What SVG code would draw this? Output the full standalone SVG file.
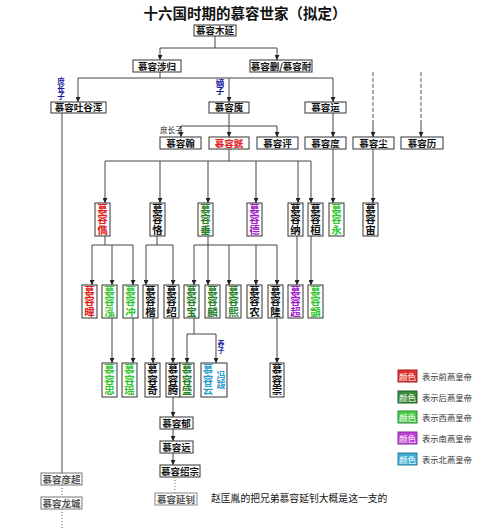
<svg xmlns="http://www.w3.org/2000/svg" width="500" height="529" viewBox="0 0 500 529">
<style>
text{font-family:"Noto Sans CJK SC","Noto Sans",sans-serif;fill:#111}
.box{fill:#fff;stroke:#333;stroke-width:1}
.h{font-size:9.5px;font-weight:bold;text-anchor:middle}
.v{font-size:10.5px;font-weight:bold;text-anchor:middle;writing-mode:vertical-rl}
.vt{writing-mode:vertical-rl;text-anchor:middle}
.ln{fill:none;stroke:#444;stroke-width:1}
.ar{fill:none;stroke:#444;stroke-width:1;marker-end:url(#arr)}
.dash{fill:none;stroke:#555;stroke-width:1;stroke-dasharray:4,2}
.dot{fill:none;stroke:#666;stroke-width:1;stroke-dasharray:1,2}
.red{fill:#e02020}
.dg{fill:#2a7f2a}
.lg{fill:#33c633}
.pu{fill:#a020c8}
.te{fill:#2a9cc8}
.blue{fill:#1a1aa0;font-weight:bold}
.leg{font-size:8.3px;fill:#333}
.legc{font-size:8.5px;text-anchor:middle;fill:#fff}
</style>
<defs>
<marker id="arr" viewBox="0 0 6 6" refX="6" refY="3" markerWidth="5" markerHeight="5" markerUnits="userSpaceOnUse" orient="auto">
<path d="M0,0 L6,3 L0,6 z" fill="#222"/>
</marker>
</defs>
<rect width="500" height="529" fill="#fff"/>
<text x="245" y="19" font-size="14.5" font-weight="bold" text-anchor="middle" fill="#333">十六国时期的慕容世家（拟定）</text>

<g id="connectors">
<path class="ln" d="M215,36 V48 M160,48 H277"/>
<path class="ar" d="M160,48 V60"/>
<path class="ar" d="M277,48 V60"/>
<path class="ln" d="M160,72 V78 M78,78 H333"/>
<path class="ar" d="M78,78 V102"/>
<path class="ar" d="M229,78 V102"/>
<path class="ar" d="M333,78 V102"/>
<path class="ln" d="M62,113 V473"/>
<path class="dot" d="M62,485 V497 M62,509 V529"/>
<path class="ln" d="M229,113 V126 M181,126 H277"/>
<path class="ar" d="M181,126 V137"/>
<path class="ar" d="M229,126 V137"/>
<path class="ar" d="M277,126 V137"/>
<path class="ar" d="M333,113 V137"/>
<path class="dash" d="M373,72 V120 M421,72 V120"/>
<path class="ar" d="M373,120 V137"/>
<path class="ar" d="M421,120 V137"/>
<path class="ln" d="M229,149 V161 M105,161 H311"/>
<path class="ar" d="M105,161 V203"/>
<path class="ar" d="M160,161 V203"/>
<path class="ar" d="M208,161 V203"/>
<path class="ar" d="M256,161 V203"/>
<path class="ar" d="M298,161 V203"/>
<path class="ar" d="M311,161 V203"/>
<path class="ar" d="M333,149 V203"/>
<path class="ar" d="M373,149 V203"/>
<path class="ln" d="M105,236 V245 M92,245 H133"/>
<path class="ar" d="M92,245 V285"/>
<path class="ar" d="M112,245 V285"/>
<path class="ar" d="M133,245 V285"/>
<path class="ln" d="M157,236 V245 M146,245 H173"/>
<path class="ar" d="M146,245 V285"/>
<path class="ar" d="M173,245 V285"/>
<path class="ln" d="M208,236 V245 M194,245 H277"/>
<path class="ar" d="M194,245 V285"/>
<path class="ar" d="M208,245 V285"/>
<path class="ar" d="M229,245 V285"/>
<path class="ar" d="M256,245 V285"/>
<path class="ar" d="M277,245 V285"/>
<path class="ar" d="M297,236 V285"/>
<path class="ar" d="M311,236 V285"/>
<path class="ar" d="M112,318 V363"/>
<path class="ar" d="M133,318 V363"/>
<path class="ar" d="M153,318 V363"/>
<path class="ar" d="M173,318 V363"/>
<path class="ln" d="M194,318 V334 M187,334 H216"/>
<path class="ar" d="M187,334 V363"/>
<path class="ar" d="M216,334 V363"/>
<path class="ar" d="M277,318 V363"/>
<path class="ar" d="M173,397 V417"/>
<path class="ar" d="M173,429 V441"/>
<path class="ar" d="M173,453 V465"/>
<path class="dot" d="M175,477 V493"/>
</g>

<g id="labels">
<text class="blue vt" x="61" y="89" font-size="7.5">庶长子</text>
<text class="blue vt" x="220" y="87" font-size="8.5">嫡子</text>
<text x="160" y="133" font-size="7.5">庶长子</text>
<text class="blue vt" x="221" y="347" font-size="7">养子</text>
</g>

<g id="n-muyan"><rect class="box" x="194" y="25" width="42" height="11"/><text class="h" x="215" y="34">慕容木延</text></g>
<g id="n-shegui"><rect class="box" x="133" y="60" width="48" height="12"/><text class="h" x="157" y="69.5">慕容涉归</text></g>
<g id="n-shan"><rect class="box" x="250" y="60" width="62" height="12"/><text class="h" x="281" y="69.5">慕容删/慕容耐</text></g>
<g id="n-tuyuhun"><rect class="box" x="51" y="102" width="55" height="11"/><text class="h" x="78.5" y="111">慕容吐谷浑</text></g>
<g id="n-hui"><rect class="box" x="209" y="102" width="40" height="11"/><text class="h" x="229" y="111">慕容廆</text></g>
<g id="n-yun"><rect class="box" x="305" y="102" width="41" height="11"/><text class="h" x="325.5" y="111">慕容运</text></g>
<g id="n-han"><rect class="box" x="160" y="137" width="41" height="12"/><text class="h" x="180.5" y="146.5">慕容翰</text></g>
<g id="n-huang"><rect class="box" x="209" y="137" width="40" height="12"/><text class="h red" x="229" y="146.5">慕容皝</text></g>
<g id="n-ping"><rect class="box" x="257" y="137" width="41" height="12"/><text class="h" x="277.5" y="146.5">慕容评</text></g>
<g id="n-du"><rect class="box" x="305" y="137" width="41" height="12"/><text class="h" x="325.5" y="146.5">慕容度</text></g>
<g id="n-chen"><rect class="box" x="353" y="137" width="41" height="12"/><text class="h" x="373.5" y="146.5">慕容尘</text></g>
<g id="n-li"><rect class="box" x="401" y="137" width="42" height="12"/><text class="h" x="422" y="146.5">慕容历</text></g>

<g id="n-jun"><rect class="box" x="95" y="203" width="15" height="33"/><text class="v red" x="102.5" y="219.5">慕容儁</text></g>
<g id="n-ke"><rect class="box" x="150" y="203" width="15" height="33"/><text class="v" x="157.5" y="219.5">慕容恪</text></g>
<g id="n-chui"><rect class="box" x="198" y="203" width="15" height="33"/><text class="v dg" x="205.5" y="219.5">慕容垂</text></g>
<g id="n-de"><rect class="box" x="247" y="203" width="15" height="33"/><text class="v pu" x="254.5" y="219.5">慕容德</text></g>
<g id="n-na"><rect class="box" x="288" y="203" width="15" height="33"/><text class="v" x="295.5" y="219.5">慕容纳</text></g>
<g id="n-huan"><rect class="box" x="308" y="203" width="15" height="33"/><text class="v" x="315.5" y="219.5">慕容桓</text></g>
<g id="n-yong"><rect class="box" x="329" y="203" width="15" height="33"/><text class="v lg" x="336.5" y="219.5">慕容永</text></g>
<g id="n-zhou"><rect class="box" x="363" y="203" width="15" height="33"/><text class="v" x="370.5" y="219.5">慕容宙</text></g>

<g id="n-wei"><rect class="box" x="82" y="285" width="15" height="33"/><text class="v red" x="89.5" y="301.5">慕容暐</text></g>
<g id="n-hong"><rect class="box" x="102" y="285" width="15" height="33"/><text class="v lg" x="109.5" y="301.5">慕容泓</text></g>
<g id="n-chong"><rect class="box" x="123" y="285" width="15" height="33"/><text class="v lg" x="130.5" y="301.5">慕容冲</text></g>
<g id="n-kai"><rect class="box" x="143" y="285" width="15" height="33"/><text class="v" x="150.5" y="301.5">慕容楷</text></g>
<g id="n-shao"><rect class="box" x="164" y="285" width="15" height="33"/><text class="v" x="171.5" y="301.5">慕容绍</text></g>
<g id="n-bao"><rect class="box" x="184" y="285" width="15" height="33"/><text class="v dg" x="191.5" y="301.5">慕容宝</text></g>
<g id="n-lin"><rect class="box" x="205" y="285" width="15" height="33"/><text class="v dg" x="212.5" y="301.5">慕容麟</text></g>
<g id="n-xi"><rect class="box" x="226" y="285" width="15" height="33"/><text class="v dg" x="233.5" y="301.5">慕容熙</text></g>
<g id="n-nong"><rect class="box" x="247" y="285" width="15" height="33"/><text class="v" x="254.5" y="301.5">慕容农</text></g>
<g id="n-long"><rect class="box" x="268" y="285" width="15" height="33"/><text class="v" x="275.5" y="301.5">慕容隆</text></g>
<g id="n-chao"><rect class="box" x="288" y="285" width="15" height="33"/><text class="v pu" x="295.5" y="301.5">慕容超</text></g>
<g id="n-yi"><rect class="box" x="308" y="285" width="15" height="33"/><text class="v lg" x="315.5" y="301.5">慕容顗</text></g>

<g id="n-zhong"><rect class="box" x="102" y="363" width="15" height="34"/><text class="v lg" x="109.5" y="380">慕容忠</text></g>
<g id="n-yao"><rect class="box" x="122" y="363" width="15" height="34"/><text class="v lg" x="129.5" y="380">慕容瑶</text></g>
<g id="n-qi"><rect class="box" x="145" y="363" width="15" height="34"/><text class="v" x="152.5" y="380">慕容奇</text></g>
<g id="n-teng"><rect class="box" x="166" y="363" width="14" height="34"/><text class="v" x="173" y="380">慕容腾</text></g>
<g id="n-sheng"><rect class="box" x="180" y="363" width="14" height="34"/><text class="v dg" x="187" y="380">慕容盛</text></g>
<g id="n-yunfeng"><rect class="box" x="201" y="363" width="26" height="34"/><text class="v te" x="208" y="380">慕容云</text><text class="te vt" x="221" y="380" font-size="9" font-weight="bold">冯跋</text></g>
<g id="n-chong2"><rect class="box" x="270" y="363" width="14" height="34"/><text class="v" x="277" y="380">慕容崇</text></g>

<g id="n-yu"><rect class="box" x="160" y="417" width="33" height="12"/><text class="h" x="176.5" y="426.5">慕容郁</text></g>
<g id="n-yuan"><rect class="box" x="160" y="441" width="33" height="12"/><text class="h" x="176.5" y="450.5">慕容远</text></g>
<g id="n-shaozong"><rect class="box" x="160" y="465" width="40" height="12"/><text class="h" x="180" y="474.5" font-size="8.5">慕容绍宗</text></g>
<g id="n-yanzhao"><rect class="box" x="155" y="493" width="42" height="12" style="stroke:#888"/><text class="h" x="176" y="502.5" style="fill:#555">慕容延钊</text></g>
<text x="211" y="502" font-size="9.8" fill="#333">赵匡胤的把兄弟慕容延钊大概是这一支的</text>
<g id="n-yanchao"><rect class="box" x="41" y="473" width="41" height="12" style="stroke:#777"/><text class="h" x="61.5" y="482.5" style="fill:#555">慕容彦超</text></g>
<g id="n-longcheng"><rect class="box" x="41" y="497" width="41" height="12" style="stroke:#777"/><text class="h" x="61.5" y="506.5" style="fill:#555">慕容龙城</text></g>

<g id="legend">
<rect x="398" y="370" width="19" height="12" fill="#e03030" stroke="#a02020"/><text class="legc" x="407.5" y="379.5">颜色</text><text class="leg" x="422" y="379.5">表示前燕皇帝</text>
<rect x="398" y="391" width="19" height="12" fill="#3a8a3a" stroke="#1f5f1f"/><text class="legc" x="407.5" y="400.5">颜色</text><text class="leg" x="422" y="400.5">表示后燕皇帝</text>
<rect x="398" y="411" width="19" height="12" fill="#4ccc4c" stroke="#2a8a2a"/><text class="legc" x="407.5" y="420.5">颜色</text><text class="leg" x="422" y="420.5">表示西燕皇帝</text>
<rect x="398" y="432" width="19" height="12" fill="#c040d8" stroke="#8a2a9a"/><text class="legc" x="407.5" y="441.5">颜色</text><text class="leg" x="422" y="441.5">表示南燕皇帝</text>
<rect x="398" y="453" width="19" height="12" fill="#40b0d8" stroke="#2a7a9a"/><text class="legc" x="407.5" y="462.5">颜色</text><text class="leg" x="422" y="462.5">表示北燕皇帝</text>
</g>
</svg>
